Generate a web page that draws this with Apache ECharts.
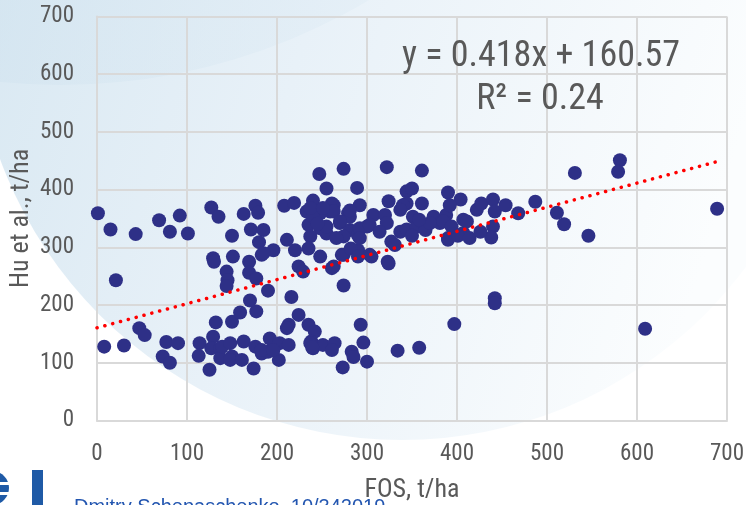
<!DOCTYPE html>
<html>
<head>
<meta charset="utf-8">
<script src="https://cdn.jsdelivr.net/npm/echarts@6/dist/echarts.min.js"></script>
<style>
html,body{margin:0;padding:0;background:#ffffff;}
#chart{width:746px;height:505px;}
</style>
</head>
<body>
<div id="chart"></div>
<script>
// FOS (t/ha) values
const fos = [
  1,15,43,69,92,81,101,21,
  8,30,47,53,77,90,73,81,
  114,113,125,129,127,137,137,139,148,150,148,163,161,176,183,174,192,190,203,213,202,183,196,132,150,159,177,170,
  224,213,211,235,242,238,240,251,264,261,283,285,273,293,296,300,334,358,237,239,
  127,135,163,176,179,150,171,185,180,183,129,130,151,169,144,145,144,169,177,190,216,274,
  208,219,211,196,185,220,224,229,
  247,274,322,361,255,289,344,350,
  240,261,292,324,344,361,263,340,
  233,248,259,279,307,320,337,351,374,388,381,407,407,390,
  235,248,270,281,300,322,337,344,327,
  237,255,274,290,235,248,274,290,303,263,323,
  261,272,282,290,305,324,331,
  240,255,281,292,292,266,245,263,270,237,251,281,303,314,355,
  365,370,358,350,
  390,404,392,385,394,390,401,411,414,422,427,440,442,454,440,438,426,468,487,511,519,546,531,581,579,689,442,442,397,609
];
// Hu et al. (t/ha) values
const hu = [
  359,331,323,347,355,327,324,243,
  128,130,160,148,136,134,111,100,
  134,112,88,145,125,125,108,128,134,111,105,137,105,128,116,90,142,119,134,131,105,122,122,170,171,187,189,208,
  183,166,160,166,154,137,125,131,134,122,119,110,92,166,135,102,121,126,134,127,
  369,353,358,372,360,320,331,330,309,287,281,275,284,275,258,243,233,256,246,225,214,234,
  372,377,313,295,290,295,267,258,
  427,436,439,433,402,403,397,402,
  381,376,373,380,376,376,373,373,
  362,359,362,359,356,356,365,353,353,356,342,348,325,316,
  339,333,342,330,336,342,327,331,310,
  319,324,319,321,298,284,287,295,287,267,275,
  264,287,298,284,284,272,304,
  353,336,353,333,316,316,341,362,345,368,368,364,339,327,336,
  330,342,348,320,
  395,383,373,345,336,313,320,345,316,365,376,383,362,373,336,317,327,359,379,360,340,320,429,451,431,367,212,203,167,159
];
// Trendline as printed on the chart
const slope = 0.418;
const intercept = 160.57;
const trendRange = [0, 689];
const equationText = 'y = 0.418x + 160.57';
const r2Text = 'R² = 0.24';
const xTitle = 'FOS, t/ha';
const yTitle = 'Hu et al., t/ha';
const footerText = 'Dmitry Schepaschenko, 10/342019';

const points = fos.map((x, i) => [x, hu[i]]);
const trend = trendRange.map(x => [x, slope * x + intercept]);

const FONT = "'Liberation Sans Narrow', 'Arial Narrow', 'Roboto Condensed', Roboto, sans-serif";
const TXT = '#595959';
const GRID = '#d9d9d9';

const chart = echarts.init(document.getElementById('chart'), null, {renderer: 'canvas'});
chart.setOption({
  backgroundColor: '#ffffff',
  animation: false,
  textStyle: {fontFamily: FONT},
  grid: {left: 97, right: 19, top: 16.5, bottom: 84.5, containLabel: false, outerBoundsMode: 'none'},
  xAxis: {
    type: 'value', min: 0, max: 700, interval: 100,
    name: xTitle, nameLocation: 'middle', nameGap: 57, nameMoveOverlap: false,
    nameTextStyle: {color: TXT, fontSize: 26, fontFamily: FONT},
    axisLine: {show: true, lineStyle: {color: GRID, width: 2}},
    axisTick: {show: false},
    axisLabel: {color: TXT, fontSize: 23, fontFamily: FONT, margin: 22},
    splitLine: {show: true, lineStyle: {color: GRID, width: 2}}
  },
  yAxis: {
    type: 'value', min: 0, max: 700, interval: 100,
    name: yTitle, nameLocation: 'middle', nameGap: 63, nameMoveOverlap: false,
    nameTextStyle: {color: TXT, fontSize: 26, fontFamily: FONT},
    axisLine: {show: true, lineStyle: {color: GRID, width: 2}},
    axisTick: {show: false},
    axisLabel: {color: TXT, fontSize: 23, fontFamily: FONT, margin: 23},
    splitLine: {show: true, lineStyle: {color: GRID, width: 2}}
  },
  graphic: [
    {type: 'circle', z: -20, silent: true, shape: {cx: 402, cy: 12, r: 428},
     style: {fill: new echarts.graphic.LinearGradient(0, 0, 1, 0.3, [
       {offset: 0, color: '#d3e5f0'}, {offset: 0.5, color: '#e8f1f8'}, {offset: 1, color: '#fbfdfe'}])}},
    {type: 'circle', z: -19, silent: true, shape: {cx: 60, cy: -520, r: 605},
     style: {fill: new echarts.graphic.LinearGradient(0, 0, 1, 0, [
       {offset: 0, color: 'rgba(190,215,232,0.55)'}, {offset: 1, color: 'rgba(225,237,246,0.2)'}])}},
    {type: 'circle', z: -18, silent: true, shape: {cx: -8, cy: 488, r: 17},
     style: {fill: '#1f5aa6'}},
    {type: 'rect', z: -17, silent: true, shape: {x: 0, y: 482, width: 10, height: 3},
     style: {fill: '#ffffff'}},
    {type: 'rect', z: -17, silent: true, shape: {x: 0, y: 492, width: 10, height: 3},
     style: {fill: '#ffffff'}},
    {type: 'rect', z: -18, silent: true, shape: {x: 32, y: 470, width: 11, height: 35},
     style: {fill: '#1f5aa6'}},
    {type: 'text', z: 5, silent: true, style: {text: footerText, x: 74, y: 497,
      fill: '#2356b0', font: '20px "Liberation Sans", Arial, sans-serif', textVerticalAlign: 'top'}},
    {type: 'text', z: 5, silent: true, style: {text: equationText, x: 541, y: 57,
      fill: TXT, fontSize: 36, fontFamily: FONT, textAlign: 'center', textVerticalAlign: 'middle'}},
    {type: 'text', z: 5, silent: true, style: {text: r2Text, x: 540, y: 100,
      fill: TXT, fontSize: 36, fontFamily: FONT, textAlign: 'center', textVerticalAlign: 'middle'}}
  ],
  series: [
    {
      type: 'scatter', data: points, symbol: 'circle', symbolSize: 14,
      itemStyle: {color: '#2e3087', opacity: 1}, z: 3
    },
    {
      type: 'line', data: trend, symbol: 'none', silent: true, z: 4,
      lineStyle: {color: '#ff0000', width: 3.5, type: [0.1, 8], cap: 'round'}
    }
  ]
});
</script>
</body>
</html>
